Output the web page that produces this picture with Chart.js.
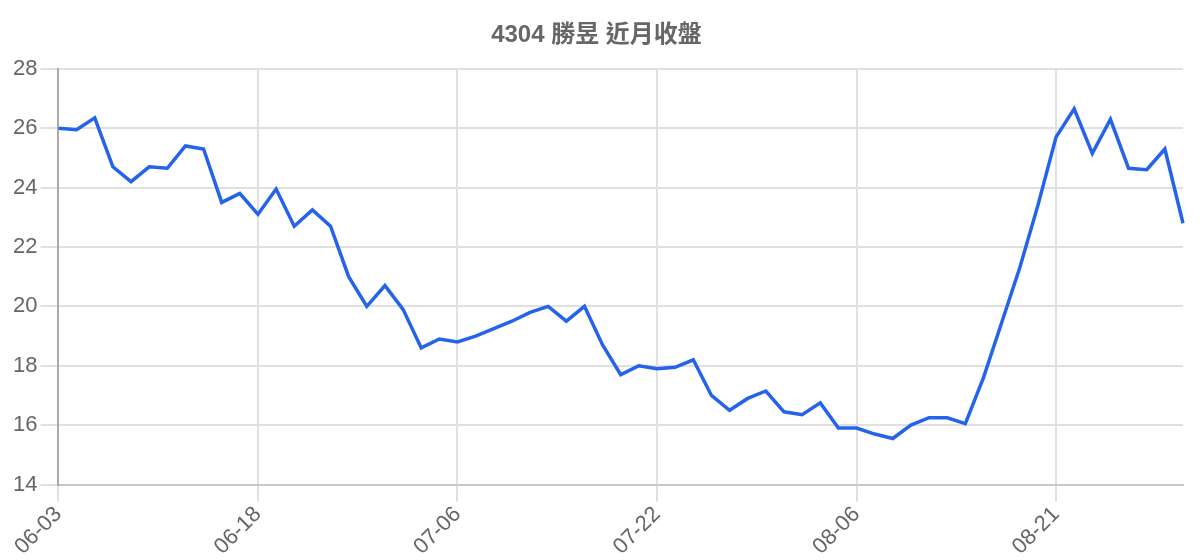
<!DOCTYPE html>
<html>
<head>
<meta charset="utf-8">
<title>4304 勝昱 近月收盤</title>
<script src="https://cdn.jsdelivr.net/npm/chart.js@4/dist/chart.umd.min.js"></script>
<style>
    body { margin: 0; background: #fff; }
    #wrap { width: 1200px; height: 560px; position: relative; }
</style>
</head>
<body>
<div id="wrap"><canvas id="close-chart"></canvas></div>
<script>
    // Dates (trading days)
    var dates = [
        "06-03", "06-04", "06-05", "06-06", "06-09", "06-10", "06-11", "06-12", "06-13", "06-16", "06-17",
        "06-18", "06-19", "06-20", "06-23", "06-24", "06-25", "06-26", "06-27", "06-30", "07-01", "07-03",
        "07-06", "07-07", "07-08", "07-09", "07-10", "07-11", "07-14", "07-15", "07-16", "07-17", "07-18",
        "07-22", "07-23", "07-24", "07-25", "07-28", "07-29", "07-30", "07-31", "08-01", "08-04", "08-05",
        "08-06", "08-07", "08-08", "08-11", "08-12", "08-13", "08-14", "08-15", "08-18", "08-19", "08-20",
        "08-21", "08-22", "08-25", "08-26", "08-27", "08-28", "08-29", "09-01"
    ];

    // Closing prices
    var closes = [
        26.0, 25.95, 26.35, 24.7, 24.2, 24.7, 24.65, 25.4, 25.3, 23.5, 23.8,
        23.1, 23.95, 22.7, 23.25, 22.7, 21.0, 20.0, 20.7, 19.9, 18.6, 18.9,
        18.8, 19.0, 19.25, 19.5, 19.8, 20.0, 19.5, 20.0, 18.7, 17.7, 18.0,
        17.9, 17.95, 18.2, 17.0, 16.5, 16.9, 17.15, 16.45, 16.35, 16.75, 15.9,
        15.9, 15.7, 15.55, 16.0, 16.25, 16.25, 16.05, 17.6, 19.45, 21.3, 23.4,
        25.7, 26.65, 25.15, 26.3, 24.65, 24.6, 25.3, 22.8
    ];

    var yMin = 14, yMax = 28, yStep = 2;

    Chart.defaults.font.family = "'Liberation Sans', Arial, 'Noto Sans CJK TC', sans-serif";
    Chart.defaults.color = "#666";

    var ctx = document.getElementById("close-chart").getContext("2d");
    var myChart = new Chart(ctx, {
        type: "line",
        data: {
            labels: dates,
            datasets: [{
                label: "收盤",
                data: closes,
                borderColor: "#2563eb",
                borderWidth: 3.5,
                pointRadius: 0,
                tension: 0,
                fill: false
            }]
        },
        options: {
            responsive: true,
            maintainAspectRatio: false,
            animation: false,
            layout: {
                padding: { left: 10, right: 17, top: 0, bottom: 0 }
            },
            plugins: {
                legend: { display: false },
                tooltip: { enabled: false },
                title: {
                    display: true,
                    text: "4304 勝昱 近月收盤",
                    color: "#666",
                    font: { size: 24, weight: "bold", family: "'Liberation Sans', 'Noto Sans CJK TC', sans-serif" },
                    padding: { top: 21, bottom: 19 }
                }
            },
            scales: {
                x: {
                    grid: {
                        color: "#e0e0e0",
                        lineWidth: 2,
                        tickLength: 17
                    },
                    border: { color: "#c8c8c8", width: 2 },
                    ticks: {
                        autoSkip: true,
                        maxTicksLimit: 6,
                        minRotation: 45,
                        maxRotation: 45,
                        padding: 0,
                        font: { size: 22 }
                    }
                },
                y: {
                    min: yMin,
                    max: yMax,
                    grid: {
                        color: "#e0e0e0",
                        lineWidth: 2,
                        tickLength: 18
                    },
                    border: { color: "#aaa", width: 2 },
                    ticks: {
                        stepSize: yStep,
                        padding: 3,
                        font: { size: 22 }
                    }
                }
            }
        }
    });
</script>
</body>
</html>
